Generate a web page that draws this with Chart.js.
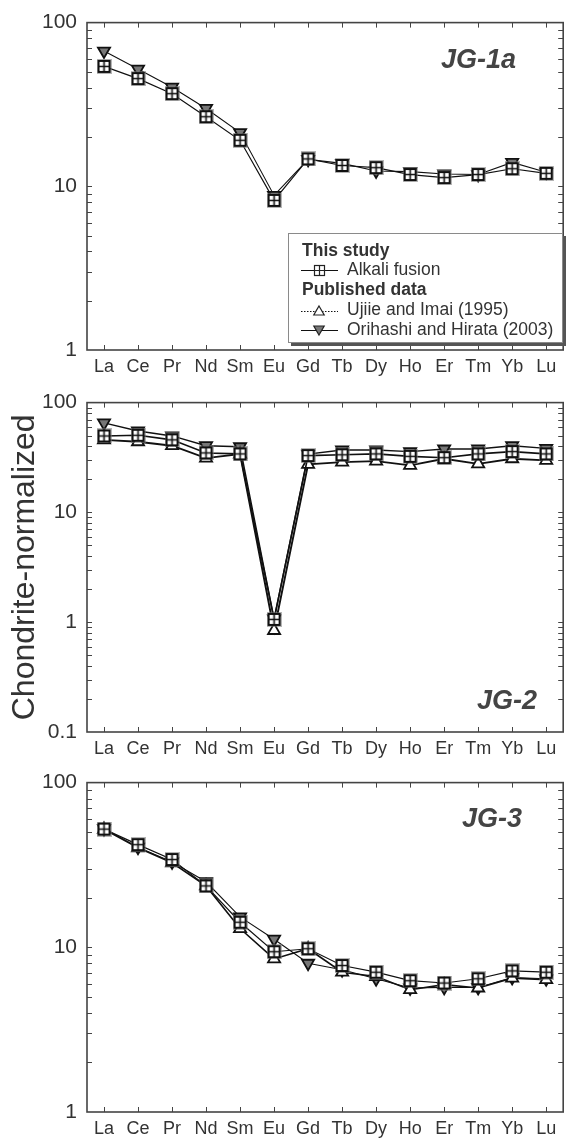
<!DOCTYPE html>
<html><head><meta charset="utf-8">
<script src="https://cdn.jsdelivr.net/npm/chart.js@4.4.0/dist/chart.umd.min.js"></script>
<style>
html,body{margin:0;padding:0;background:#fff;}
#wrap{position:relative;width:572px;height:1140px;overflow:hidden;}
canvas{position:absolute;left:0;}
</style></head><body>
<div id="wrap">
<canvas id="c1" width="572" height="380" style="top:0px"></canvas>
<canvas id="c2" width="572" height="380" style="top:380px"></canvas>
<canvas id="c3" width="572" height="380" style="top:760px"></canvas>
</div>
<script>
// ---- data ----
const elements = ['La','Ce','Pr','Nd','Sm','Eu','Gd','Tb','Dy','Ho','Er','Tm','Yb','Lu'];

const seriesNames = ['Alkali fusion', 'Ujiie and Imai (1995)', 'Orihashi and Hirata (2003)'];
const legendHeadings = ['This study', 'Published data'];
const panelNames = ['JG-1a', 'JG-2', 'JG-3'];
const yAxisTitle = 'Chondrite-normalized';

const jg1aAlkali   = [54.0, 45.5, 36.8, 26.6, 19.1, 8.2, 14.7, 13.4, 13.0, 11.8, 11.3, 11.8, 12.8, 12.0];
const jg1aOrihashi = [67.0, 52.0, 40.3, 29.9, 21.3, 8.8, 14.6, 13.8, 12.4, 12.3, 11.9, 11.8, 14.0, 12.2];

const jg2Alkali    = [49.7, 50.4, 45.8, 34.8, 34.1, 1.06, 32.9, 33.5, 34.1, 32.4, 31.5, 34.1, 35.8, 34.1];
const jg2Ujiie     = [45.8, 44.0, 40.5, 31.2, 34.0, 0.84, 27.4, 28.7, 29.3, 26.8, 30.8, 27.7, 30.8, 29.8];
const jg2Orihashi  = [65.3, 55.1, 49.7, 40.5, 39.6, 1.07, 34.0, 37.0, 37.0, 35.8, 37.8, 37.8, 40.5, 38.3];

const jg3Alkali    = [52.2, 42.0, 34.1, 23.6, 14.2, 9.4, 9.8, 7.75, 7.06, 6.27, 6.07, 6.44, 7.19, 7.06];
const jg3Ujiie     = [52.0, 40.2, 32.6, 23.6, 13.0, 8.5, 9.8, 7.06, 6.65, 5.53, 5.93, 5.66, 6.50, 6.36];
const jg3Orihashi  = [52.5, 40.5, 33.0, 25.0, 15.3, 11.2, 8.0, 7.30, 6.44, 5.66, 5.71, 5.70, 6.56, 6.44];

const yTicksJG1a = [1, 10, 100];
const yTicksJG2  = [0.1, 1, 10, 100];
const yTicksJG3  = [1, 10, 100];

// ---- styling ----
const FONT = "'Liberation Sans', Arial, Helvetica, sans-serif";
Chart.defaults.font.family = FONT;
const INK = '#111';
const TEXT = '#333';

function makeSquareMarker(){
  const c = document.createElement('canvas'); c.width = 15; c.height = 15;
  const g = c.getContext('2d');
  g.strokeStyle = 'rgba(120,120,120,0.55)'; g.lineWidth = 1; g.strokeRect(0.5,0.5,14,14);
  g.fillStyle = '#fff'; g.fillRect(2,2,11,11);
  g.strokeStyle = '#111'; g.lineWidth = 2; g.strokeRect(2,2,11,11);
  g.lineWidth = 1.6; g.beginPath();
  g.moveTo(7.5,2); g.lineTo(7.5,13); g.moveTo(2,7.5); g.lineTo(13,7.5); g.stroke();
  return c;
}
const squareImg = makeSquareMarker();

function dsAlkali(data, lw){ return {label: seriesNames[0], data, borderColor: INK, borderWidth: lw, pointStyle: squareImg, pointRadius: 7, fill:false, tension:0}; }
function dsUjiie(data, lw){ return {label: seriesNames[1], data, borderColor: INK, borderWidth: lw + 0.3, pointStyle: 'triangle', pointRadius: 7, pointBorderWidth: 1.8, pointBackgroundColor: '#fff', pointBorderColor: '#111', fill:false, tension:0}; }
function dsOrihashi(data, lw){ return {label: seriesNames[2], data, borderColor: INK, borderWidth: lw, pointStyle: 'triangle', pointRotation: 180, pointRadius: 7, pointBorderWidth: 1.8, pointBackgroundColor: '#777', pointBorderColor: '#111', fill:false, tension:0}; }

function drawTriangle(ctx, x, y, r, down, fill){
  ctx.save();
  ctx.beginPath();
  const s = down ? -1 : 1;
  ctx.moveTo(x, y - s*r);
  ctx.lineTo(x + r*0.866, y + s*r*0.5);
  ctx.lineTo(x - r*0.866, y + s*r*0.5);
  ctx.closePath();
  ctx.fillStyle = fill; ctx.fill();
  ctx.strokeStyle = '#222'; ctx.lineWidth = 1.2; ctx.stroke();
  ctx.restore();
}

function drawLegend(ctx){
  const bx = 288, by = 233, bw = 275, bh = 110;
  ctx.save();
  ctx.fillStyle = '#555'; ctx.fillRect(bx+3, by+3, bw, bh);
  ctx.fillStyle = '#fff'; ctx.fillRect(bx, by, bw, bh);
  ctx.strokeStyle = '#8a8a8a'; ctx.lineWidth = 1; ctx.strokeRect(bx+0.5, by+0.5, bw-1, bh-1);
  ctx.textBaseline = 'middle'; ctx.textAlign = 'left'; ctx.fillStyle = TEXT;
  const lx0 = 301, lx1 = 338, mx = 319, tx = 347;
  ctx.font = 'bold 17.5px ' + FONT; ctx.fillText(legendHeadings[0], 302, 251);
  // alkali
  ctx.strokeStyle = INK; ctx.lineWidth = 1.1; ctx.beginPath(); ctx.moveTo(lx0, 270.5); ctx.lineTo(lx1, 270.5); ctx.stroke();
  ctx.fillStyle = '#fff'; ctx.fillRect(mx-5, 265, 11, 11);
  ctx.strokeStyle = '#222'; ctx.lineWidth = 1.2; ctx.strokeRect(mx-5+0.5, 265.5, 10, 10);
  ctx.beginPath(); ctx.moveTo(mx+0.5, 265.5); ctx.lineTo(mx+0.5, 275.5);
  ctx.moveTo(mx-4.5, 270.5); ctx.lineTo(mx+5.5, 270.5); ctx.stroke();
  ctx.fillStyle = TEXT; ctx.font = '17.5px ' + FONT; ctx.fillText(seriesNames[0], tx, 270);
  ctx.font = 'bold 17.5px ' + FONT; ctx.fillText(legendHeadings[1], 302, 290);
  // ujiie (dotted)
  ctx.strokeStyle = INK; ctx.setLineDash([1.5,1.5]); ctx.lineWidth = 1; ctx.beginPath(); ctx.moveTo(lx0, 311.5); ctx.lineTo(lx1, 311.5); ctx.stroke(); ctx.setLineDash([]);
  drawTriangle(ctx, mx, 312, 6, false, '#fff');
  ctx.fillStyle = TEXT; ctx.font = '17.5px ' + FONT; ctx.fillText(seriesNames[1], tx, 310);
  // orihashi
  ctx.strokeStyle = INK; ctx.lineWidth = 1; ctx.beginPath(); ctx.moveTo(lx0, 330.5); ctx.lineTo(lx1, 330.5); ctx.stroke();
  drawTriangle(ctx, mx, 329, 6, true, '#777');
  ctx.fillStyle = TEXT; ctx.font = '17.5px ' + FONT; ctx.fillText(seriesNames[2], tx, 330);
  ctx.restore();
}

function makeDecor(cfg){
  return {
    id: 'decor',
    afterDraw(chart){
      const ctx = chart.ctx, a = chart.chartArea;
      const xs = chart.scales.x, ys = chart.scales.y;
      ctx.save();
      ctx.strokeStyle = '#444'; ctx.lineWidth = 1;
      ctx.beginPath();
      for (let i = 0; i < elements.length; i++){
        const x = Math.round(xs.getPixelForValue(i)) + 0.5;
        ctx.moveTo(x, a.bottom); ctx.lineTo(x, a.bottom - 5);
        ctx.moveTo(x, a.top); ctx.lineTo(x, a.top + 5);
      }
      const lo = Math.round(Math.log10(ys.min)), hi = Math.round(Math.log10(ys.max));
      for (let d = lo; d <= hi; d++){
        for (let k = 1; k <= 9; k++){
          const v = k * Math.pow(10, d);
          if (v <= ys.min * 1.0001 || v >= ys.max * 0.9999) continue;
          const y = Math.round(ys.getPixelForValue(v)) + 0.5;
          ctx.moveTo(a.left, y); ctx.lineTo(a.left + 5, y);
          ctx.moveTo(a.right, y); ctx.lineTo(a.right - 5, y);
        }
      }
      ctx.stroke();
      ctx.lineWidth = 1.6; ctx.strokeStyle = '#444';
      ctx.strokeRect(a.left, a.top, a.right - a.left, a.bottom - a.top);
      ctx.fillStyle = '#444'; ctx.font = 'italic bold 27px ' + FONT;
      ctx.textAlign = 'right'; ctx.textBaseline = 'middle';
      ctx.fillText(cfg.name, cfg.nameX, cfg.nameY);
      if (cfg.legend) drawLegend(ctx);
      ctx.restore();
    }
  };
}

function makeChart(id, yMin, yMax, yTicks, datasets, o){
  return new Chart(document.getElementById(id), {
    type: 'line',
    data: {labels: elements, datasets},
    options: {
      responsive: false, animation: false, devicePixelRatio: 1,
      layout: {padding: {top: o.padTop, right: 3, bottom: 0, left: 0}},
      plugins: {legend: {display: false}, tooltip: {enabled: false}},
      scales: {
        x: {
          type: 'category', offset: true,
          grid: {display: false, drawTicks: false}, border: {display: false},
          ticks: {color: TEXT, font: {size: 18}, padding: 6, autoSkip: false, maxRotation: 0},
          afterFit: s => { s.height = o.xH; }
        },
        y: {
          type: 'logarithmic', min: yMin, max: yMax,
          grid: {display: false, drawTicks: false}, border: {display: false},
          ticks: {color: TEXT, font: {size: 21}, padding: 10, callback: v => String(v)},
          afterBuildTicks: s => { s.ticks = yTicks.map(v => ({value: v})); },
          afterFit: s => { s.width = 87; },
          title: o.yTitle ? {display: true, text: yAxisTitle, color: TEXT, font: {size: 32, weight: 'normal'}, padding: {top: 6, bottom: 0}} : {display: false}
        }
      }
    },
    plugins: [makeDecor(o)]
  });
}

makeChart('c1', 1, 100, yTicksJG1a,
  [dsAlkali(jg1aAlkali, 1.2), dsOrihashi(jg1aOrihashi, 1.1)],
  {padTop: 17, xH: 30, name: panelNames[0], nameX: 516, nameY: 61, legend: true});

makeChart('c2', 0.1, 100, yTicksJG2,
  [dsAlkali(jg2Alkali, 1.6), dsUjiie(jg2Ujiie, 1.6), dsOrihashi(jg2Orihashi, 1.4)],
  {padTop: 16, xH: 28, name: panelNames[1], nameX: 537, nameY: 322, yTitle: true});

makeChart('c3', 1, 100, yTicksJG3,
  [dsAlkali(jg3Alkali, 1.2), dsUjiie(jg3Ujiie, 1.3), dsOrihashi(jg3Orihashi, 1.1)],
  {padTop: 19, xH: 28, name: panelNames[2], nameX: 522, nameY: 60});
</script>
</body></html>
